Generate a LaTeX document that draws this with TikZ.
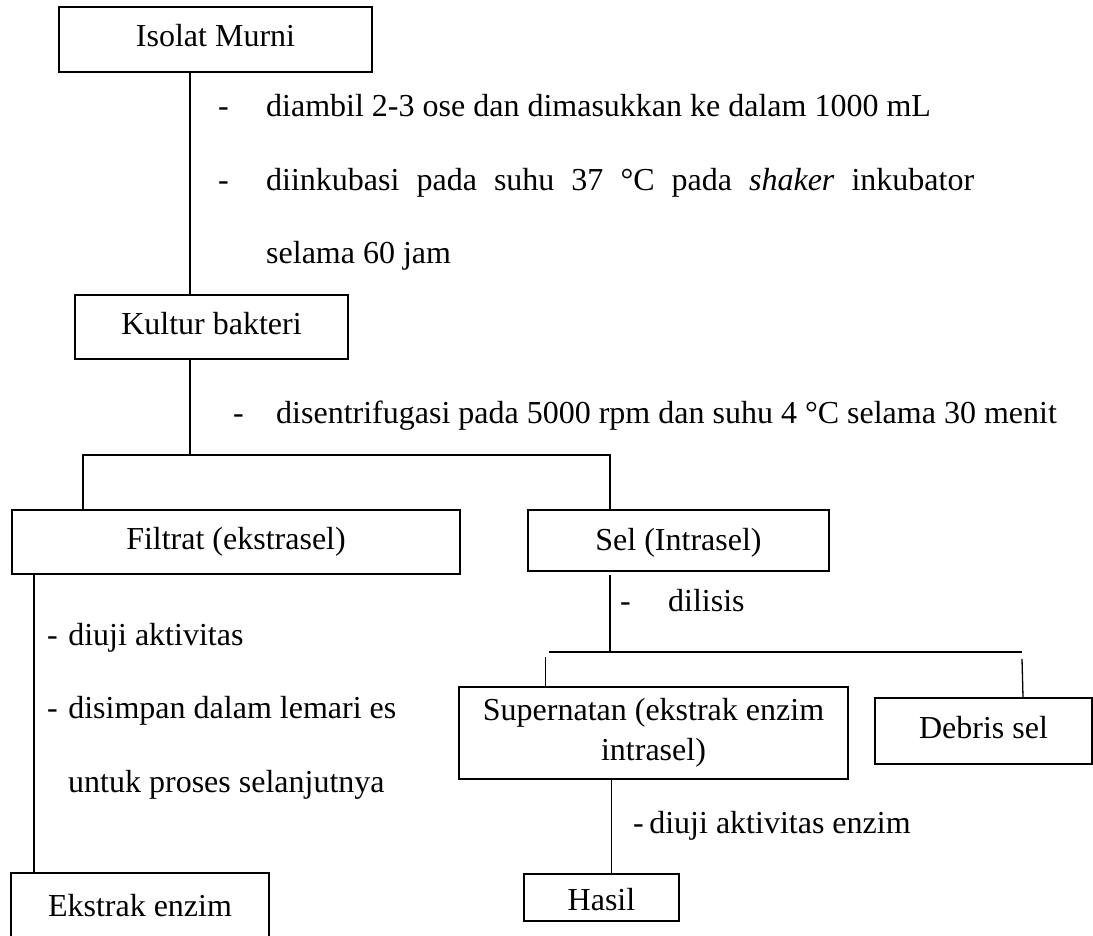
\documentclass[tikz,border=0pt]{standalone}
\usepackage{fontspec}
\setmainfont{Liberation Serif}
\usetikzlibrary{calc}
\begin{document}
\begin{tikzpicture}[x=1pt,y=-1pt,
  txt/.style={font=\fontsize{32}{40}\selectfont},
  box/.style={txt,draw,line width=1.8pt,inner sep=0pt,text height=22pt,text depth=7pt},
  twoline/.style={txt,draw,line width=1.8pt,inner sep=0pt,align=center},
  link/.style={line width=1.3pt},
  lbl/.style={txt,anchor=base west,inner sep=0pt}]
\useasboundingbox (0,0) rectangle (1093,936);
\fill[white] (0,0) rectangle (1093,936);
\clip (0,0) rectangle (1093,936);

% process boxes
\node[box,minimum width=313pt,minimum height=65pt] (iso)  at (215.5,39.5) {Isolat Murni};
\node[box,minimum width=273pt,minimum height=64pt] (kul)  at (211.5,327)  {Kultur bakteri};
\node[box,minimum width=448pt,minimum height=64pt] (fil)  at (236,542)    {Filtrat (ekstrasel)};
\node[box,minimum width=301pt,minimum height=61pt,text height=26pt] (sel) at (678.5,540.5) {Sel (Intrasel)};
\node[twoline,minimum width=389pt,minimum height=92pt] (sup) at (653.5,733) {Supernatan (ekstrak enzim\\intrasel)};
\node[box,minimum width=217pt,minimum height=66pt] (deb)  at (983.5,731)  {Debris sel};
\node[box,minimum width=155pt,minimum height=47pt,text height=32pt] (has) at (601.5,897.5) {Hasil};
\node[box,minimum width=258pt,minimum height=72pt] (ekst) at (140,909)    {Ekstrak enzim};

% connector positions
\coordinate (c1)  at (190,0);
\coordinate (j1)  at (190,455);
\coordinate (j1l) at (83,455);
\coordinate (j1r) at (610,455);
\coordinate (c2)  at (34,0);
\coordinate (j2)  at (610,652);
\coordinate (j2l) at (549,652);
\coordinate (j2r) at (1022,652);
\coordinate (d2l) at (545.5,657);
\coordinate (d2r) at (1022,659);
\coordinate (c3)  at (611.5,0);

% connectors
\draw[link] (iso.south -| c1) -- (kul.north -| c1);
\draw[link] (kul.south -| j1) -- (j1);
\draw[link] (fil.north -| j1l) -- (j1l) -- (j1r) -- (sel.north -| j1r);
\draw[link] (fil.south -| c2) -- (ekst.north -| c2);
\draw[link] ($(sel.south -| j2)+(0,3)$) -- (j2);
\draw[link] (j2l) -- (j2r);
\draw[link] (d2l) -- (sup.north -| d2l);
\draw[link] (d2r) -- ($(deb.north -| d2r)+(1,0)$);
\draw[link] (sup.south -| c3) -- (has.north -| c3);

% step annotations
\node[lbl] (m1) at (218,117) {-};
\node[lbl] (t1) at (266,117) {diambil 2-3 ose dan dimasukkan ke dalam 1000 mL};
\node[lbl] (m2) at (218,191) {-};
\node[lbl] (t2) at (266,191) {\makebox[708pt][s]{diinkubasi pada suhu 37 °C pada \textit{shaker} inkubator}};
\node[lbl] (t3) at (266,264) {selama 60 jam};
\node[lbl] (m4) at (233,423) {-};
\node[lbl] (t4) at (276,423) {disentrifugasi pada 5000 rpm dan suhu 4 °C selama 30 menit};
\node[lbl] (t5) at (47,645)   {-\hspace{10.5pt}diuji aktivitas};
\node[lbl] (t6) at (47,718.5) {-\hspace{10.5pt}disimpan dalam lemari es};
\node[lbl] (t7) at (68,792)   {untuk proses selanjutnya};
\node[lbl] (m8) at (620,611) {-};
\node[lbl] (t8) at (668,611) {dilisis};
\node[lbl] (t9) at (633,833) {-\hspace{5.5pt}diuji aktivitas enzim};
\end{tikzpicture}
\end{document}
